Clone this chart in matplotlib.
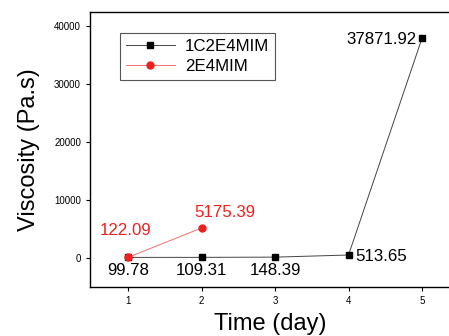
import matplotlib
matplotlib.use("Agg")
import matplotlib.pyplot as plt

plt.rcParams['font.family'] = ['Liberation Sans', 'DejaVu Sans']

days_a = [1, 2, 3, 4, 5]
visc_a = [99.78, 109.31, 148.39, 513.65, 37871.92]
labels_a = ["99.78", "109.31", "148.39", "513.65", "37871.92"]
days_b = [1, 2]
visc_b = [122.09, 5175.39]
labels_b = ["122.09", "5175.39"]

fig = plt.figure(figsize=(4.49, 3.36), dpi=100)
ax = fig.add_axes([90/449, 1-287/336, 1-90/449+0.002, (287-12)/336])

ax.plot(days_a, visc_a, color='#444444', lw=0.7, marker='s', ms=4,
        mfc='black', mec='black', label='1C2E4MIM')
ax.plot(days_b, visc_b, color='#f07070', lw=0.7, marker='o', ms=5,
        mfc='#ee2020', mec='#ee2020', label='2E4MIM')

ax.set_xlim(0.48, 5.38)
ax.set_ylim(-5000, 42400)
ax.set_xticks([1, 2, 3, 4, 5])
ax.set_yticks([0, 10000, 20000, 30000, 40000])
ax.tick_params(direction='out', labelsize=7, length=3, width=0.8)
ax.spines['right'].set_visible(False)
for s in ['left', 'bottom', 'top']:
    ax.spines[s].set_linewidth(1.0)

fs = 12.2
for i, (x, y, t) in enumerate(zip(days_a, visc_a, labels_a)):
    if i < 3:
        ax.annotate(t, (x, y), xytext=(0, -4), textcoords='offset points',
                    ha='center', va='top', fontsize=fs)
    elif i == 3:
        ax.annotate(t, (x, y), xytext=(5, -1), textcoords='offset points',
                    ha='left', va='center', fontsize=fs)
    else:
        ax.annotate(t, (x, y), xytext=(-4, -1), textcoords='offset points',
                    ha='right', va='center', fontsize=fs)
ax.annotate(labels_b[0], (days_b[0], visc_b[0]), xytext=(-2, 14), textcoords='offset points',
            ha='center', va='bottom', fontsize=fs, color='#ee2020')
ax.annotate(labels_b[1], (days_b[1], visc_b[1]), xytext=(16.5, 6), textcoords='offset points',
            ha='center', va='bottom', fontsize=fs, color='#ee2020')

ax.set_ylabel('Viscosity (Pa.s)', fontsize=17, labelpad=10)
ax.set_xlabel('Time (day)', fontsize=17, labelpad=5)

leg = ax.legend(loc='upper left', bbox_to_anchor=(0.083, 0.925), borderaxespad=0,
                fontsize=12.2,
                frameon=True, fancybox=False, edgecolor='#555555', framealpha=1,
                handlelength=2.9, borderpad=0.35, labelspacing=0.3, handletextpad=0.6)
leg.get_frame().set_linewidth(0.8)

fig.savefig('out.png', dpi=100)
